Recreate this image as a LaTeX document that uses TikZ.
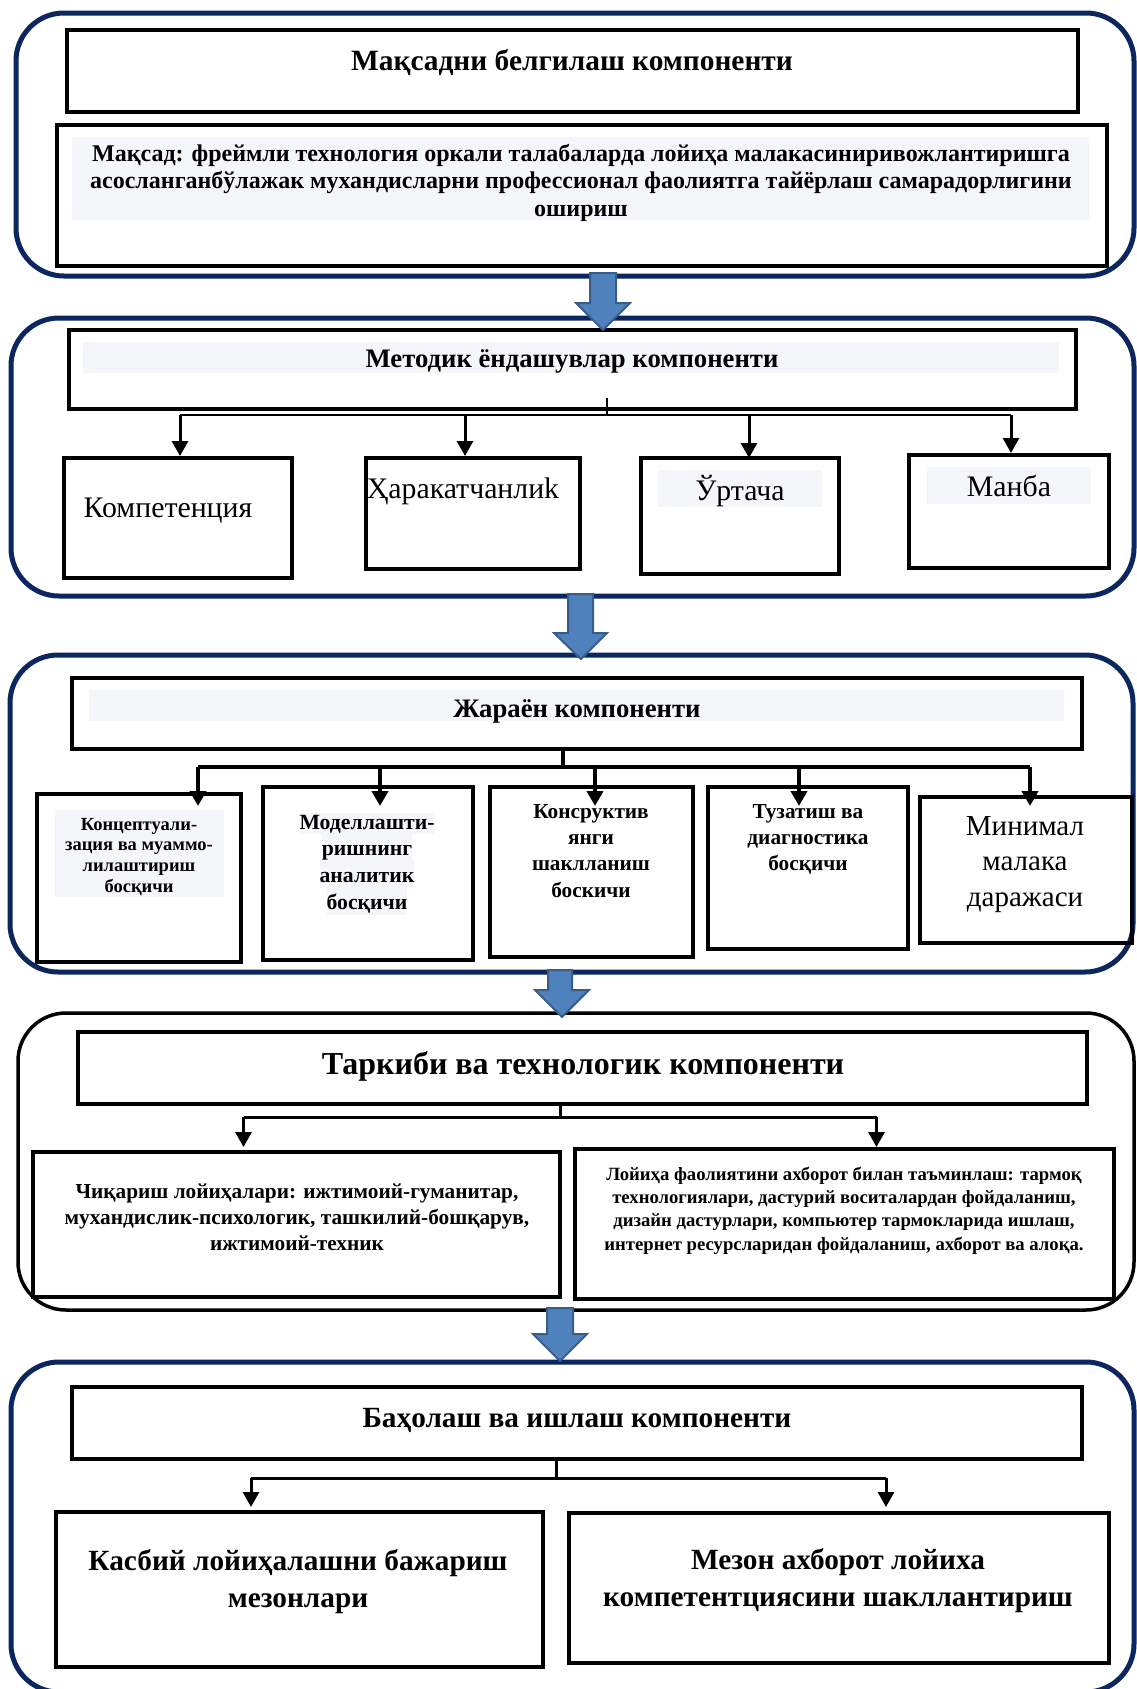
\documentclass[tikz,border=0pt]{standalone}
\usepackage{fontspec}
\setmainfont{Liberation Serif}
\usetikzlibrary{arrows.meta,fit}
\definecolor{navy}{RGB}{12,38,96}
\definecolor{band}{RGB}{245,246,249}
\definecolor{arrfill}{RGB}{79,129,189}
\definecolor{arrline}{RGB}{56,93,138}
\newcommand\fs[2]{\fontsize{#1}{#2}\selectfont}
\newcommand\tst{\rule{0pt}{1em}}
\newcommand\mkbox[4][]{\coordinate (#2-a) at (#3);\coordinate (#2-b) at (#4);\node[boxst,fit=(#2-a)(#2-b),#1] (#2) {};}
\begin{document}
\begin{tikzpicture}[x=1pt,y=-1pt,
  boxst/.style={draw=black,line width=3.5pt,inner sep=0pt,outer sep=0pt},
  outerst/.style={draw=navy,line width=5pt,rounded corners=48pt},
  bandst/.style={fill=band,draw=none},
  lbl/.style={inner sep=0pt,align=center},
  arrT/.style={-{Triangle[width=16pt,length=15pt]}},
  blockarrow/.style={fill=arrfill,draw=arrline,line width=2pt,line join=miter}
]
\useasboundingbox (0,0) rectangle (1136,1689);
\fill[white] (0,0) rectangle (1136,1689);

% ---------- outer frames ----------
\draw[outerst] (16,13) rectangle (1134,276);
\draw[outerst] (11,318) rectangle (1134,596);
\draw[outerst] (10,655) rectangle (1133,972);
\draw[outerst,draw=black,line width=3.5pt] (18,1013) rectangle (1134,1310);
\draw[outerst] (11,1362) rectangle (1134,1692);

% ---------- light bands ----------
\fill[bandst] (72,137) rectangle (1089,220);
\fill[bandst] (83,342) rectangle (1059,373);
\fill[bandst] (658,470) rectangle (822,507);
\fill[bandst] (927,467) rectangle (1091,504);
\fill[bandst] (89,690) rectangle (1064,721);
\fill[bandst] (55,810) rectangle (224,897);
\fill[bandst] (301,813) rectangle (434,834);
\fill[bandst] (322,834) rectangle (412,861);
\fill[bandst] (320,861) rectangle (414,888);
\fill[bandst] (327,888) rectangle (407,915);

% ---------- section 1 ----------
\mkbox[line width=4.5pt]{t1}{67,30}{1078,112}
\mkbox{g1}{57,125}{1107,266}
\node[lbl,anchor=base,font=\bfseries\fs{29.4}{31}] (t1txt) at (572,70) {Мақсадни белгилаш компоненти};
\node[lbl,anchor=north,font=\bfseries\fs{24}{27.5}] (g1txt) at (581,137) {\tst Мақсад: фреймли технология оркали талабаларда лойиҳа малакасиниривожлантиришга\\асосланганбўлажак мухандисларни профессионал фаолиятга тайёрлаш самарадорлигини\\ошириш};

% ---------- section 2 ----------
\mkbox{t2}{69,330}{1076,409}
\mkbox{c1}{64,458}{292,578}
\mkbox{c2}{366,458}{580,569}
\mkbox{c3}{641,458}{839,574}
\mkbox{c4}{909,455}{1109,568}
\node[lbl,anchor=base,font=\bfseries\fs{26.7}{28}] (t2txt) at (572,367) {Методик ёндашувлар компоненти};
\node[lbl,anchor=base,font=\fs{29.8}{32}] (c1txt) at (168,517) {Компетенция};
\node[lbl,anchor=base,font=\fs{29.8}{32}] (c2txt) at (463,498) {Ҳаракатчанлиk};
\node[lbl,anchor=base,font=\fs{29.8}{32}] (c3txt) at (740,500) {Ўртача};
\node[lbl,anchor=base,font=\fs{29.8}{32}] (c4txt) at (1009,496) {Манба};
\coordinate (k2top) at (607,398);
\coordinate (k2) at (607,415);
\draw[line width=2.5pt] (k2top) -- (k2);
\draw[line width=2.5pt] ([xshift=2pt]c1.north |- k2) -- ([xshift=2pt]c4.north |- k2);
\draw[arrT,line width=3pt] ([xshift=2pt]c1.north |- k2) -- ([xshift=2pt,yshift=2pt]c1.north);
\draw[arrT,line width=3pt] ([xshift=-8pt]c2.north |- k2) -- ([xshift=-8pt,yshift=2pt]c2.north);
\draw[arrT,line width=3pt] ([xshift=9pt]c3.north |- k2) -- ([xshift=9pt]c3.north);
\draw[arrT,line width=3pt] ([xshift=2pt]c4.north |- k2) -- ([xshift=2pt,yshift=2pt]c4.north);

% ---------- section 3 ----------
\mkbox{t3}{72,678}{1082,749}
\mkbox{d1}{37,794}{241,962}
\mkbox{d2}{263,787}{473,960}
\mkbox{d3}{490,787}{693,957}
\mkbox{d4}{708,787}{908,949}
\mkbox{d5}{920,797}{1132,943}
\node[lbl,anchor=base,font=\bfseries\fs{26.7}{28}] (t3txt) at (577,717) {Жараён компоненти};
\node[lbl,anchor=north,font=\bfseries\fs{18.5}{20.7}] (d1txt) at (139,811.5) {\tst Концептуали-\\зация ва муаммо-\\лилаштириш\\босқичи};
\node[lbl,anchor=north,font=\bfseries\fs{21.7}{26.7}] (d2txt) at (367,807.3) {\tst Моделлашти-\\ришнинг\\аналитик\\босқичи};
\node[lbl,anchor=north,font=\bfseries\fs{21.3}{26.3}] (d3txt) at (591,796.7) {\tst Консруктив\\янги\\шаклланиш\\боскичи};
\node[lbl,anchor=north,font=\bfseries\fs{21.3}{26.3}] (d4txt) at (808,796.7) {\tst Тузатиш ва\\диагностика\\босқичи};
\node[lbl,anchor=north,font=\fs{29}{35.5}] (d5txt) at (1025,806) {\tst Минимал\\малака\\даражаси};
\coordinate (k3) at (563,767);
\coordinate (tip3) at (0,806);
\draw[line width=4pt] (k3 |- t3.south) -- (k3);
\draw[line width=4pt] ([xshift=59pt]d1.north |- k3) -- ([xshift=4pt]d5.north |- k3);
\draw[arrT,line width=4pt] ([xshift=59pt]d1.north |- k3) -- ([xshift=59pt]d1.north |- tip3);
\draw[arrT,line width=4pt] ([xshift=12pt]d2.north |- k3) -- ([xshift=12pt]d2.north |- tip3);
\draw[arrT,line width=4pt] ([xshift=3.5pt]d3.north |- k3) -- ([xshift=3.5pt]d3.north |- tip3);
\draw[arrT,line width=4pt] ([xshift=-9pt]d4.north |- k3) -- ([xshift=-9pt]d4.north |- tip3);
\draw[arrT,line width=4pt] ([xshift=4pt]d5.north |- k3) -- ([xshift=4pt]d5.north |- tip3);

% ---------- section 4 ----------
\mkbox{t4}{78,1032}{1087,1104}
\mkbox{e1}{33,1152}{560,1297}
\mkbox{e2}{575,1149}{1114,1299}
\node[lbl,anchor=base,font=\bfseries\fs{32}{34}] (t4txt) at (583,1074) {Таркиби ва технологик компоненти};
\node[lbl,anchor=north,font=\bfseries\fs{21.3}{26}] (e1txt) at (297,1176.7) {\tst Чиқариш лойиҳалари: ижтимоий-гуманитар,\\мухандислик-психологик, ташкилий-бошқарув,\\ижтимоий-техник};
\node[lbl,anchor=north,font=\bfseries\fs{18.7}{23.3}] (e2txt) at (844,1161.3) {\tst Лойиҳа фаолиятини ахборот билан таъминлаш: тармоқ\\технологиялари, дастурий воситалардан фойдаланиш,\\дизайн дастурлари, компьютер тармокларида ишлаш,\\интернет ресурсларидан фойдаланиш, ахборот ва алоқа.};
\coordinate (k4) at (560,1117);
\coordinate (tip4) at (0,1147);
\draw[line width=3pt] (k4 |- t4.south) -- (k4);
\draw[line width=3pt] ([xshift=-53pt]e1.north |- k4) -- ([xshift=32pt]e2.north |- k4);
\draw[arrT,line width=3pt] ([xshift=-53pt]e1.north |- k4) -- ([xshift=-53pt]e1.north |- tip4);
\draw[arrT,line width=3pt] ([xshift=32pt]e2.north |- k4) -- ([xshift=32pt]e2.north |- tip4);

% ---------- section 5 ----------
\mkbox[line width=4pt]{t5}{72,1387}{1082,1459}
\mkbox[line width=4pt]{f1}{56,1512}{543,1667}
\mkbox[line width=4pt]{f2}{569,1513}{1109,1663}
\node[lbl,anchor=base,font=\bfseries\fs{29.3}{31}] (t5txt) at (577,1427) {Баҳолаш ва ишлаш компоненти};
\node[lbl,anchor=north,font=\bfseries\fs{29.3}{37.5}] (f1txt) at (298,1540.7) {\tst Касбий лойиҳалашни бажариш\\мезонлари};
\node[lbl,anchor=north,font=\bfseries\fs{29.3}{37.5}] (f2txt) at (838,1539.7) {\tst Мезон ахборот лойиха\\компетентциясини шакллантириш};
\coordinate (k5) at (556,1478);
\coordinate (tip5) at (0,1507);
\draw[line width=3pt] (k5 |- t5.south) -- (k5);
\draw[line width=3pt] ([xshift=-48.5pt]f1.north |- k5) -- ([xshift=47pt]f2.north |- k5);
\draw[arrT,line width=3pt] ([xshift=-48.5pt]f1.north |- k5) -- ([xshift=-48.5pt]f1.north |- tip5);
\draw[arrT,line width=3pt] ([xshift=47pt]f2.north |- k5) -- ([xshift=47pt]f2.north |- tip5);

% ---------- block arrows between sections ----------
\filldraw[blockarrow] (590,273) -- (616,273) -- (616,303) -- (630,303) -- (603,330) -- (576,303) -- (590,303) -- cycle;
\filldraw[blockarrow] (568,594) -- (593,594) -- (593,633) -- (607,633) -- (581,659) -- (554,633) -- (568,633) -- cycle;
\filldraw[blockarrow] (548,970) -- (572,970) -- (572,990) -- (589,990) -- (562,1017) -- (535,990) -- (548,990) -- cycle;
\filldraw[blockarrow] (547,1308) -- (573,1308) -- (573,1334) -- (587,1334) -- (560,1361) -- (533,1334) -- (547,1334) -- cycle;
\end{tikzpicture}
\end{document}
